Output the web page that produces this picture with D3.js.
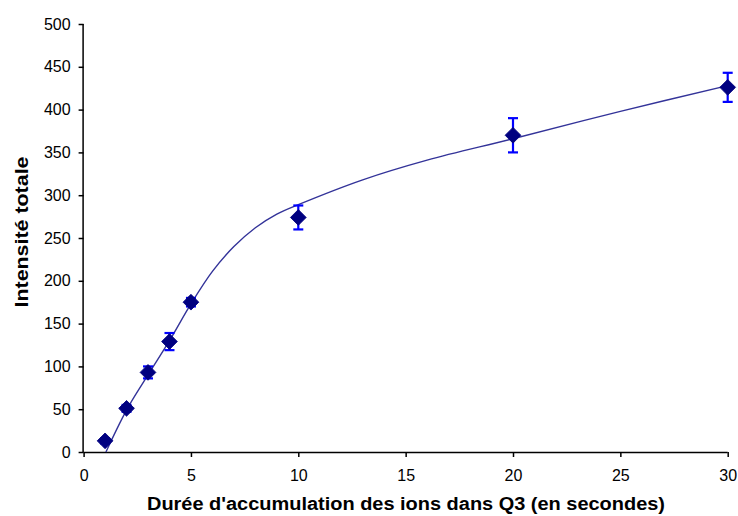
<!DOCTYPE html>
<html><head><meta charset="utf-8">
<script src="https://cdn.jsdelivr.net/npm/d3@7"></script>
<style>body{margin:0;background:#fff}svg{display:block}text{font-family:Arial,"Liberation Sans",sans-serif}</style>
</head><body><svg id="c" width="738" height="516"></svg>
<script>
const durations = [1, 2, 3, 4, 5, 10, 20, 30];
const intensities = [13, 51, 93, 129, 175, 274, 370, 426];
const errors = [3, 4, 7, 10, 5, 14, 20, 17];
const curveX = [1.04, 2, 3, 4, 5, 6, 7, 8, 9, 10, 13, 16, 20, 25, 30];
const curveY = [0, 49, 90, 130, 173, 211, 240, 262, 278, 289, 318, 341, 366, 398, 428];
const xTicks = [0, 5, 10, 15, 20, 25, 30];
const yTicks = [0, 50, 100, 150, 200, 250, 300, 350, 400, 450, 500];

const svg = d3.select("#c");
const x = d3.scaleLinear().domain([0, 30]).range([83.6, 727.7]);
const y = d3.scaleLinear().domain([0, 500]).range([452, 24]);

const xAxis = svg.append("g").attr("transform", "translate(0,452)")
  .call(d3.axisBottom(x).tickValues(xTicks).tickSize(5).tickPadding(12.5).tickFormat(d3.format("d")));
const yAxis = svg.append("g").attr("transform", "translate(83.6,0)")
  .call(d3.axisLeft(y).tickValues(yTicks).tickSize(5).tickPadding(8).tickFormat(d3.format("d")));
[xAxis, yAxis].forEach(g => {
  g.select(".domain").attr("stroke", "#000").attr("stroke-width", 1.5);
  g.selectAll(".tick line").attr("stroke", "#000").attr("stroke-width", 1.5);
  g.selectAll("text").attr("font-size", 16).attr("fill", "#000")
   .attr("font-family", "Arial, 'Liberation Sans', sans-serif");
});
xAxis.select(".domain").attr("d", `M${x(0)},0.5H${x(30)}`);
yAxis.select(".domain").attr("d", `M-0.5,${y(0)}V${y(500)}`);

// fitted curve
const pts = curveX.map((d, i) => [d, curveY[i]]);
svg.append("path").datum(pts)
  .attr("fill", "none").attr("stroke", "#333399").attr("stroke-width", 1.4)
  .attr("d", d3.line().x(d => x(d[0])).y(d => y(d[1])).curve(d3.curveCatmullRom.alpha(0.5)));

// error bars
const data = durations.map((d, i) => ({x: d, y: intensities[i], e: errors[i]}));
const eb = svg.append("g").attr("stroke", "#0000FF").attr("stroke-width", 2.2);
data.forEach(d => {
  const cx = x(d.x);
  eb.append("line").attr("x1", cx).attr("x2", cx).attr("y1", y(d.y - d.e)).attr("y2", y(d.y + d.e));
  eb.append("line").attr("x1", cx - 5).attr("x2", cx + 5).attr("y1", y(d.y - d.e)).attr("y2", y(d.y - d.e));
  eb.append("line").attr("x1", cx - 5).attr("x2", cx + 5).attr("y1", y(d.y + d.e)).attr("y2", y(d.y + d.e));
});

// diamond markers
svg.append("g").selectAll("path").data(data).join("path")
  .attr("d", d3.symbol().type(d3.symbolSquare).size(124)())
  .attr("transform", d => `translate(${x(d.x)},${y(d.y)}) rotate(45)`)
  .attr("fill", "#000080").attr("stroke", "#000080").attr("stroke-width", 0.8);

// titles
svg.append("text").attr("x", 406).attr("y", 510).attr("text-anchor", "middle")
  .attr("font-size", 18).attr("font-weight", "bold").attr("fill", "#000")
  .attr("textLength", 518).attr("lengthAdjust", "spacingAndGlyphs")
  .text("Durée d'accumulation des ions dans Q3 (en secondes)");
svg.append("text").attr("transform", "translate(28,232) rotate(-90)").attr("text-anchor", "middle")
  .attr("font-size", 18).attr("font-weight", "bold").attr("fill", "#000")
  .attr("textLength", 151).attr("lengthAdjust", "spacingAndGlyphs")
  .text("Intensité totale");
</script></body></html>
